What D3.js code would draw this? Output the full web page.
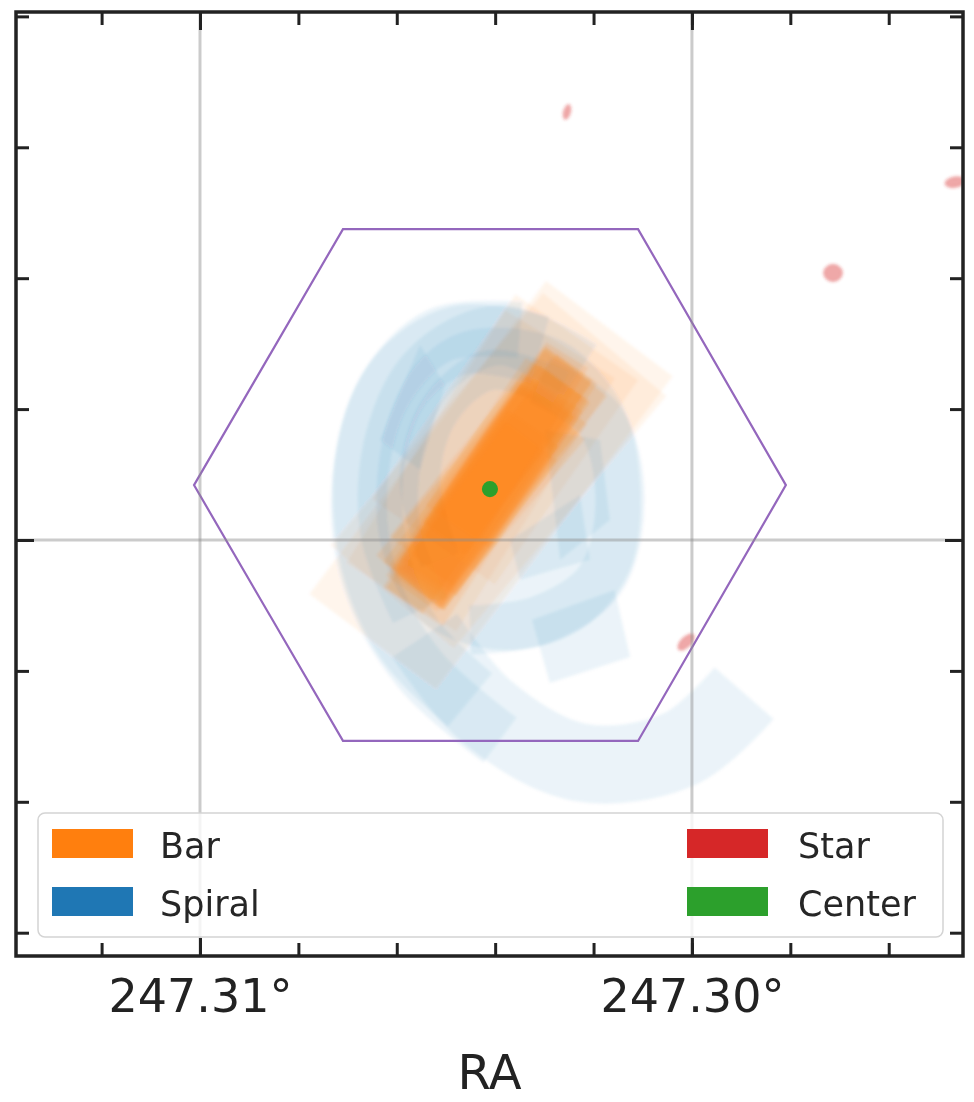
<!DOCTYPE html>
<html><head><meta charset="utf-8">
<script src="https://cdn.jsdelivr.net/npm/d3@7"></script>
<style>body{margin:0;background:#fff} svg{display:block} text{font-family:"DejaVu Sans",sans-serif}</style>
</head><body><svg id="c" width="974" height="1102"></svg>
<script>
// ---------- data ----------
const imageExtent = [0, 424];                 // image pixel extent (both axes)
const raRange = [247.31374, 247.29449];       // RA at left / right edge
const decRange = [41.228067, 41.213644];      // Dec at top / bottom edge
const raMinorTicks = [247.312, 247.310, 247.308, 247.306, 247.304, 247.302, 247.300, 247.298, 247.296];
const raMajorTicks = [247.31, 247.30];
const raTickLabels = ["247.31°", "247.30°"];
const decMinorTicks = [41.228, 41.226, 41.224, 41.222, 41.220, 41.218, 41.216, 41.214];
const decMajorTicks = [41.22];
const xLabel = "RA";

// hexagon footprint (image px)
const hexagon = [[79.7,212.5],[146.4,97.5],[278.5,97.5],[344.7,212.5],[278.5,327.4],[146.4,327.4]];

// bar annotations: [cx, cy, length, width, angleDeg]
const barRects = [
  [212,212,112,30,54],[214,208,118,26,56],[210,216,105,34,52],[215,205,120,22,58],
  [208,218,100,38,50],[213,210,125,28,55],[211,214,96,30,57],[218,201,88,24,53],
  [206,224,90,28,55],[212,212,130,20,54],[216,204,110,36,51],[209,219,115,32,57],
  [220,198,80,34,56],[205,226,84,30,53]
];
const barWideRects = [
  [212.7,212.5,176,71,53],[216,206,148,72,50],[208,206,134,58,58],[219,192,112,67,55]
];

// spiral annotations
const spiralDisk = [[203.3,142.8],[243.6,147.3],[270.4,174.3],[279.4,210.2],[274.9,250.6],
  [252.5,277.6],[216.7,286.6],[180.9,273.1],[163,237.2],[165.2,187.7],[180.9,156.3]];
const spiralArmPoints = [
  [[234.6,151.8],[198.8,147.3],[171.9,165.3],[158.5,201.2],[160.7,246.1],[176.4,282.1],[203.3,309.0]],
  [[225.7,142.8],[189.8,145.1],[165.2,169.8],[154.0,210.2],[158.5,255.1],[180.9,295.5],[216.7,327.0]],
  [[252.5,160.8],[216.7,145.1],[185.4,160.8],[169.7,192.2],[167.5,232.7],[180.9,268.6]],
  [[234.6,165.3],[261.5,183.3],[270.4,219.2],[261.5,255.1],[234.6,273.1],[203.3,277.6]],
  [[243.6,169.8],[212.2,160.8],[189.8,178.8],[180.9,210.2],[189.8,246.1]],
  [[183,280],[210,313.5],[252.5,337.0],[297.3,331.0],[326,306]]
];
const spiralArmWidths = [31, 25, 27, 22, 18, 35];
const spiralPolys = [
  [[231,273],[268,259.6],[275,289.7],[239,301.4]],
  [[221.2,237.2],[252.5,217],[257,246],[225.7,255]],
  [[180.9,149.6],[192,167.5],[180.9,205.7],[163,192.2]],
  [[236.9,187.7],[261.5,192.2],[265.9,228.2],[243.6,246.1]]
];

// stars: [cx, cy, rx, ry, rotationDeg]
const stars = [
  [246.7,44.9,1.5,3.4,15],
  [420.4,76.4,4.5,2.3,-10],
  [365.8,117.2,4.2,3.8,0],
  [300.0,283.0,4.6,2.2,-45]
];
// centre: [cx, cy, r]
const centers = [[212.2,214.3,3.6]];

const legendLabels = ["Bar","Spiral","Star","Center"];
const legendColors = ["#ff7f0e","#1f77b4","#d62728","#2ca02c"];

// ---------- layout ----------
const L = 16, T = 12, R = 963, B = 956;
const svg = d3.select("#c");
const xImg = d3.scaleLinear().domain(imageExtent).range([L, R]);
const yImg = d3.scaleLinear().domain(imageExtent).range([T, B]);
const kx = xImg(1) - xImg(0);
const raScale = d3.scaleLinear().domain(raRange).range([L, R]);
const decScale = d3.scaleLinear().domain(decRange).range([T, B]);

const defs = svg.append("defs");
defs.append("clipPath").attr("id","clip")
  .append("rect").attr("x",L).attr("y",T).attr("width",R-L).attr("height",B-T);
defs.append("filter").attr("id","soft").attr("filterUnits","userSpaceOnUse")
  .attr("x",0).attr("y",0).attr("width",974).attr("height",1000)
  .append("feGaussianBlur").attr("stdDeviation",1.8);
const plot = svg.append("g").attr("clip-path","url(#clip)");
const shapes = plot.append("g").attr("filter","url(#soft)");

const line = d3.line().x(d => xImg(d[0])).y(d => yImg(d[1]));
function rectCorners(r) {
  const [cx, cy, len, wid, a] = r;
  const t = a * Math.PI / 180;
  const ux = Math.cos(t), uy = -Math.sin(t), vx = Math.sin(t), vy = Math.cos(t);
  const h = len/2, w = wid/2;
  return [[cx+ux*h+vx*w, cy+uy*h+vy*w],[cx+ux*h-vx*w, cy+uy*h-vy*w],
          [cx-ux*h-vx*w, cy-uy*h-vy*w],[cx-ux*h+vx*w, cy-uy*h+vy*w]];
}

// wide faint bar rects
shapes.selectAll("path.bw").data(barWideRects).join("path")
  .attr("d", d => line(rectCorners(d)) + "Z")
  .attr("fill","#ff7f0e").attr("fill-opacity",0.075);

// spiral
const closed = d3.line().x(d => xImg(d[0])).y(d => yImg(d[1])).curve(d3.curveCatmullRomClosed.alpha(0.5));
shapes.append("path").attr("d", closed(spiralDisk)).attr("fill","#1f77b4").attr("fill-opacity",0.08);
const curve = d3.line().x(d => xImg(d[0])).y(d => yImg(d[1])).curve(d3.curveCatmullRom.alpha(0.5));
shapes.selectAll("path.arm").data(spiralArmPoints).join("path")
  .attr("d", d => curve(d))
  .attr("fill","none").attr("stroke","#1f77b4").attr("stroke-opacity",0.08)
  .attr("stroke-width",(d,i) => spiralArmWidths[i]*kx)
  .attr("stroke-linejoin","round").attr("stroke-linecap","butt");
shapes.selectAll("path.sp").data(spiralPolys).join("path")
  .attr("d", d => line(d) + "Z")
  .attr("fill","#1f77b4").attr("fill-opacity",0.08);

// bar rects
shapes.selectAll("path.bar").data(barRects).join("path")
  .attr("d", d => line(rectCorners(d)) + "Z")
  .attr("fill","#ff7f0e").attr("fill-opacity",0.14);

// stars
shapes.selectAll("ellipse.star").data(stars).join("ellipse")
  .attr("transform", d => `translate(${xImg(d[0])},${yImg(d[1])}) rotate(${d[4]})`)
  .attr("rx", d => d[2]*kx).attr("ry", d => d[3]*kx)
  .attr("fill","#d62728").attr("fill-opacity",0.4)
  .attr("stroke","#d62728").attr("stroke-opacity",0.3).attr("stroke-width",1);

// hexagon
plot.append("path").attr("d", line(hexagon) + "Z")
  .attr("fill","none").attr("stroke","#9467bd").attr("stroke-width",2.2);

// gridlines
plot.selectAll("line.gx").data(raMajorTicks).join("line")
  .attr("x1", d => raScale(d)).attr("x2", d => raScale(d)).attr("y1",T).attr("y2",B)
  .attr("stroke","#8c8c8c").attr("stroke-opacity",0.45).attr("stroke-width",3);
plot.selectAll("line.gy").data(decMajorTicks).join("line")
  .attr("y1", d => decScale(d)).attr("y2", d => decScale(d)).attr("x1",L).attr("x2",R)
  .attr("stroke","#8c8c8c").attr("stroke-opacity",0.45).attr("stroke-width",3);

// centre
plot.selectAll("circle.ctr").data(centers).join("circle")
  .attr("cx", d => xImg(d[0])).attr("cy", d => yImg(d[1])).attr("r", d => d[2]*kx)
  .attr("fill","#2ca02c");

// legend
const lg = svg.append("g");
lg.append("rect").attr("x",38).attr("y",813).attr("width",905).attr("height",124)
  .attr("rx",7).attr("fill","#fff").attr("fill-opacity",0.8).attr("stroke","#d4d4d4").attr("stroke-width",1.5);
legendLabels.forEach((lab, i) => {
  const col = Math.floor(i/2), row = i % 2;
  const px = col === 0 ? 52 : 687, tx = col === 0 ? 160 : 798;
  const py = 829 + row*58;
  lg.append("rect").attr("x",px).attr("y",py).attr("width",81).attr("height",29).attr("fill",legendColors[i]);
  lg.append("text").attr("x",tx).attr("y",py+29).attr("font-size",35).attr("fill","#262626").text(lab);
});

// axes (inward ticks on all sides)
function styleAxis(g) {
  g.select(".domain").remove();
  g.selectAll(".tick line").attr("stroke","#222").attr("stroke-width",3);
}
svg.append("g").attr("transform",`translate(0,${B})`)
  .call(d3.axisBottom(raScale).tickValues(raMinorTicks).tickSize(-13).tickFormat("")).call(styleAxis);
svg.append("g").attr("transform",`translate(0,${B})`)
  .call(d3.axisBottom(raScale).tickValues(raMajorTicks).tickSize(-18).tickPadding(23)
    .tickFormat((d,i) => raTickLabels[i])).call(styleAxis)
  .selectAll("text").attr("font-size",46).attr("fill","#222").attr("font-family","DejaVu Sans");
svg.append("g").attr("transform",`translate(0,${T})`)
  .call(d3.axisTop(raScale).tickValues(raMinorTicks).tickSize(-13).tickFormat("")).call(styleAxis);
svg.append("g").attr("transform",`translate(0,${T})`)
  .call(d3.axisTop(raScale).tickValues(raMajorTicks).tickSize(-18).tickFormat("")).call(styleAxis);
svg.append("g").attr("transform",`translate(${L},0)`)
  .call(d3.axisLeft(decScale).tickValues(decMinorTicks).tickSize(-13).tickFormat("")).call(styleAxis);
svg.append("g").attr("transform",`translate(${L},0)`)
  .call(d3.axisLeft(decScale).tickValues(decMajorTicks).tickSize(-18).tickFormat("")).call(styleAxis);
svg.append("g").attr("transform",`translate(${R},0)`)
  .call(d3.axisRight(decScale).tickValues(decMinorTicks).tickSize(-13).tickFormat("")).call(styleAxis);
svg.append("g").attr("transform",`translate(${R},0)`)
  .call(d3.axisRight(decScale).tickValues(decMajorTicks).tickSize(-18).tickFormat("")).call(styleAxis);

// frame
svg.append("rect").attr("x",L).attr("y",T).attr("width",R-L).attr("height",B-T)
  .attr("fill","none").attr("stroke","#222").attr("stroke-width",3.5);

// axis label
svg.append("text").attr("x",(L+R)/2).attr("y",1089).attr("text-anchor","middle")
  .attr("font-size",48).attr("fill","#222").text(xLabel);
</script></body></html>
